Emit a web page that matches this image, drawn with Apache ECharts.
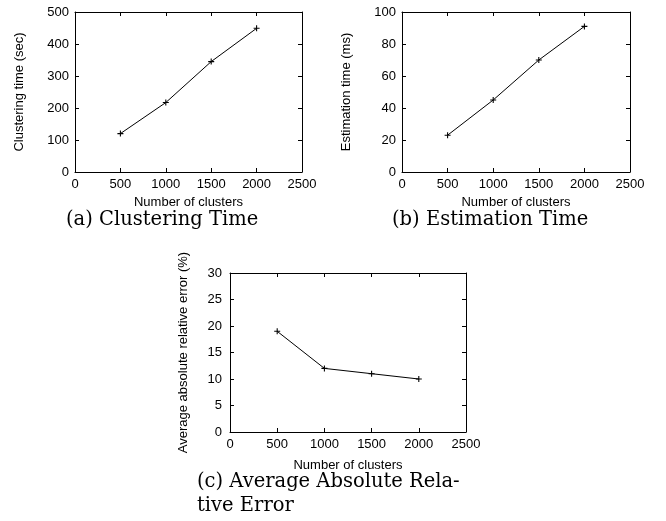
<!DOCTYPE html>
<html><head><meta charset="utf-8">
<script src="https://cdn.jsdelivr.net/npm/echarts@6/dist/echarts.min.js"></script>
<style>html,body{margin:0;padding:0;background:#fff}#c{width:666px;height:521px}</style>
</head><body><div id="c"></div>
<script>
const clusters = [500, 1000, 1500, 2000];
const clusteringTime = [120, 217, 345, 449];
const estimationTime = [23, 45, 70, 91];
const relativeError = [19, 12, 11, 10];
const xTicks = [0, 500, 1000, 1500, 2000, 2500];
const yNames = ['Clustering time (sec)', 'Estimation time (ms)', 'Average absolute relative error (%)'];
const xName = 'Number of clusters';
const captions = ['(a) Clustering Time', '(b) Estimation Time', '(c) Average Absolute Rela-\ntive Error'];

const sans = '"Liberation Sans"';
const serifFont = '19.5px "DejaVu Serif"';
const grids = [
  {left: 75, top: 12, width: 227, height: 160},
  {left: 402, top: 12, width: 228, height: 160},
  {left: 230, top: 273, width: 236, height: 159}
];
const yCfg = [
  {max: 500, interval: 100, gap: 49, margin: 6},
  {max: 100, interval: 20, gap: 49, margin: 6},
  {max: 30, interval: 5, gap: 40, margin: 8}
];
const xCfg = [{gap: 24, margin: 6}, {gap: 24, margin: 6}, {gap: 27, margin: 6}];
const lineStyle = {color: '#000', width: 1};
const tick = {show: true, inside: true, length: 4, lineStyle: {color: '#000', width: 1}};
const fmt = v => String(v);
const xAxis = [], yAxis = [], series = [];
const values = [clusteringTime, estimationTime, relativeError];
grids.forEach((g, i) => {
  const xmin = xTicks[0], xmax = xTicks[xTicks.length - 1], xint = xTicks[1] - xTicks[0];
  xAxis.push({type: 'value', gridIndex: i, min: xmin, max: xmax, interval: xint, position: 'bottom',
    name: xName, nameLocation: 'middle', nameGap: xCfg[i].gap,
    nameTextStyle: {fontFamily: sans, fontSize: 13, color: '#000'},
    axisLine: {show: true, onZero: false, lineStyle}, axisTick: tick,
    axisLabel: {fontFamily: sans, fontSize: 13, color: '#000', margin: xCfg[i].margin, formatter: fmt},
    splitLine: {show: false}});
  xAxis.push({type: 'value', gridIndex: i, min: xmin, max: xmax, interval: xint, position: 'top',
    axisLine: {show: true, onZero: false, lineStyle}, axisTick: tick,
    axisLabel: {show: false}, splitLine: {show: false}});
  yAxis.push({type: 'value', gridIndex: i, min: 0, max: yCfg[i].max, interval: yCfg[i].interval, position: 'left',
    name: yNames[i], nameLocation: 'middle', nameGap: yCfg[i].gap,
    nameTextStyle: {fontFamily: sans, fontSize: 13, color: '#000'},
    axisLine: {show: true, onZero: false, lineStyle}, axisTick: tick,
    axisLabel: {fontFamily: sans, fontSize: 13, color: '#000', margin: yCfg[i].margin, formatter: fmt},
    splitLine: {show: false}});
  yAxis.push({type: 'value', gridIndex: i, min: 0, max: yCfg[i].max, interval: yCfg[i].interval, position: 'right',
    axisLine: {show: true, onZero: false, lineStyle}, axisTick: tick,
    axisLabel: {show: false}, splitLine: {show: false}});
  series.push({type: 'line', xAxisIndex: 2 * i, yAxisIndex: 2 * i,
    data: clusters.map((c, k) => [c, values[i][k]]),
    symbol: 'path://M-0.18,-1H0.18V-0.18H1V0.18H0.18V1H-0.18V0.18H-1V-0.18H-0.18Z',
    symbolSize: 6, showSymbol: true,
    itemStyle: {color: '#000'}, lineStyle: {color: '#000', width: 1}, animation: false});
});
const chart = echarts.init(document.getElementById('c'), null, {renderer: 'canvas'});
chart.setOption({
  animation: false,
  grid: grids,
  xAxis, yAxis, series,
  graphic: [
    {type: 'text', left: 66, top: 208, style: {text: captions[0], font: serifFont, fill: '#000', lineHeight: 24}},
    {type: 'text', left: 392, top: 208, style: {text: captions[1], font: serifFont, fill: '#000', lineHeight: 24}},
    {type: 'text', left: 197, top: 470, style: {text: captions[2], font: serifFont, fill: '#000', lineHeight: 24}}
  ]
});
</script></body></html>
